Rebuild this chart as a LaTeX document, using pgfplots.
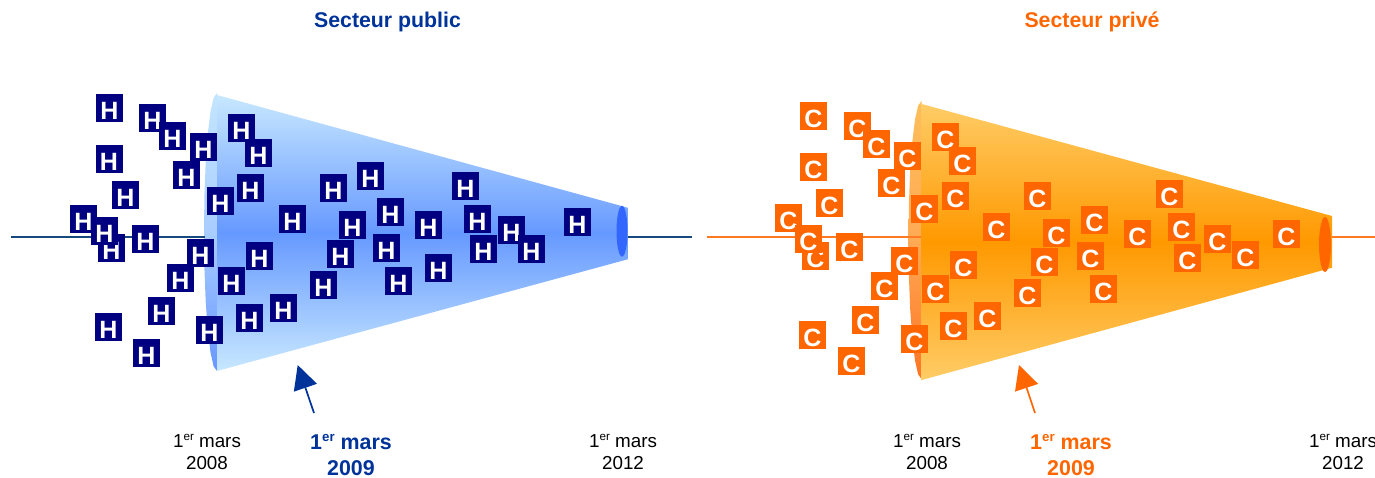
\documentclass[border=0pt]{standalone}
\usepackage{fontspec}
\setmainfont{Liberation Sans}
\usepackage{pgfplots}
\pgfplotsset{compat=1.18}
\usetikzlibrary{arrows.meta}
\definecolor{pubtitle}{HTML}{003399}
\definecolor{privtitle}{HTML}{FF6600}
\definecolor{navybox}{HTML}{000080}
\definecolor{orangebox}{HTML}{FF6600}
\definecolor{publine}{HTML}{164A7E}
\definecolor{privline}{HTML}{FF7A22}
\newcommand{\er}{\raisebox{0.36em}{\fontsize{0.62em}{0.62em}\selectfont er}}
\pgfplotsset{
  tagged/.style n args={2}{
    draw=none, no markers, forget plot,
    nodes near coords={#1},
    every node near coord/.style={
      anchor=center, fill=#2, text=white, inner sep=0pt,
      minimum width=27pt, minimum height=28pt,
      text height=22.5pt, text depth=0pt,
      font=\fontsize{25}{25}\selectfont\bfseries},
  },
}
\begin{document}
\begin{tikzpicture}
\begin{axis}[
  at={(0,0)}, anchor=south west,
  scale only axis, width=1375pt, height=477pt,
  xmin=0, xmax=1375, ymin=0, ymax=477, y dir=reverse,
  axis lines=none, clip=false,
]
% public sector: mouth of the funnel, then the time line
\addplot[draw=none, top color={rgb,255:red,196;green,230;blue,255}, bottom color={rgb,255:red,104;green,150;blue,255}, middle color={rgb,255:red,168;green,205;blue,255}, forget plot] coordinates {
  (217,93) (213.6,97.7) (210.5,111.6) (207.8,133.7) (205.7,162.5) (204.4,196) (204,232)
  (204.4,268) (205.7,301.5) (207.8,330.3) (210.5,352.4) (213.6,366.3) (217,371)} -- cycle;
\addplot[publine, line width=2pt, forget plot] coordinates {(11,236.5) (205,236.5)};
\addplot[publine, line width=2pt, forget plot] coordinates {(627,236.5) (692,236.5)};
% public sector: funnel body
\addplot[draw=none, top color={rgb,255:red,200;green,232;blue,255}, bottom color={rgb,255:red,200;green,232;blue,255}, middle color={rgb,255:red,102;green,153;blue,255}, forget plot] coordinates {
  (217,95) (627.7,207.7) (627.7,259.3) (217,371)} -- cycle;
\addplot[draw=none, fill={rgb,255:red,51;green,102;blue,255}, forget plot] coordinates {
  (627.5,231.2) (627.3,237.8) (626.8,244) (625.9,249.2) (624.75,253.3) (623.4,255.8) (622,256.7)
  (620.6,255.8) (619.25,253.3) (618.1,249.2) (617.2,244) (616.7,237.8) (616.5,231.2)
  (616.7,224.6) (617.2,218.5) (618.1,213.2) (619.25,209.1) (620.6,206.6) (622,205.7)
  (623.4,206.6) (624.75,209.1) (625.9,213.2) (626.8,218.5) (627.3,224.6)} -- cycle;

% public sector tags
\addplot[tagged={H}{navybox}] coordinates {
  (109.3,108) (152.3,118.3) (172.3,136.3) (186.3,175.3) (203.3,147) (109,159)
  (241.3,128) (258.3,153) (125.3,195) (250.3,188) (220.3,201) (333.3,188)
  (292.3,219) (83.3,219) (111.3,248.3) (104.3,231) (145.3,239) (180.3,278)
  (200.3,253) (259.3,256.3) (340.3,254) (231.3,281) (323.3,285) (161.3,311.3)
  (283.3,308.3) (249.3,318) (108.3,327) (209.3,330) (146.3,353) (352.3,225)
  (370.3,176.3) (390.3,212) (386.3,248.3) (398.3,281) (428.3,225) (438.3,268)
  (465.3,186.3) (477.3,219) (483.3,249.3) (511.3,230.3) (531.3,249) (577.3,222.3)
};
\addplot[pubtitle, line width=1.7pt, -{Triangle[length=24pt,width=24pt]}, forget plot] coordinates {(314,413) (297.7,365)};

% private sector: mouth of the funnel, then the time line
\addplot[draw=none, top color={rgb,255:red,255;green,190;blue,90}, bottom color={rgb,255:red,255;green,115;blue,35}, middle color={rgb,255:red,255;green,170;blue,85}, forget plot] coordinates {
  (921.5,101) (918.1,105.7) (915,119.6) (912.3,141.7) (910.2,170.5) (908.9,204) (908.5,240)
  (908.9,276) (910.2,309.5) (912.3,338.3) (915,360.4) (918.1,374.3) (921.5,379)} -- cycle;
\addplot[privline, line width=2pt, forget plot] coordinates {(707,236.5) (921.5,236.5)};
\addplot[privline, line width=2pt, forget plot] coordinates {(1332,236.5) (1375,236.5)};
% private sector: funnel body
\addplot[draw=none, top color={rgb,255:red,255;green,204;blue,102}, bottom color={rgb,255:red,255;green,204;blue,102}, middle color={rgb,255:red,255;green,153;blue,0}, forget plot] coordinates {
  (921.7,104) (1332,216) (1332,267.7) (921.7,380)} -- cycle;
\addplot[draw=none, fill=orangebox, forget plot] coordinates {
  (1331,244.5) (1330.8,251.6) (1330.2,258.25) (1329.2,263.9) (1328,268.3) (1326.6,271.1) (1325,272)
  (1323.4,271.1) (1322,268.3) (1320.8,263.9) (1319.8,258.25) (1319.2,251.6) (1319,244.5)
  (1319.2,237.4) (1319.8,230.75) (1320.8,225.1) (1322,220.7) (1323.4,217.9) (1325,217)
  (1326.6,217.9) (1328,220.7) (1329.2,225.1) (1330.2,230.75) (1330.8,237.4)} -- cycle;

% private sector tags
\addplot[tagged={C}{orangebox}] coordinates {
  (813.3,116) (857.3,126.3) (876.3,144.3) (891.3,183.3) (907.3,156) (813.3,167)
  (945.3,137) (962.3,161) (829.3,203) (955.3,196) (924.3,209) (1037.3,196)
  (996.3,227) (788.3,218) (815.3,256.3) (808.3,239) (849.3,247) (884.3,286)
  (904.3,261) (963.3,265.3) (1044.3,262) (935.3,289) (1027.3,293) (865.3,320.3)
  (987.3,316.3) (953.3,326) (812.3,335) (914.3,339) (851.3,361) (1056.3,233)
  (1094.3,220) (1090.3,256.3) (1103.3,289) (1137.3,234) (1169.3,194.3) (1181.3,227)
  (1187.3,258.3) (1217.3,239) (1245.3,255) (1286.3,234)
};
\addplot[privtitle, line width=1.7pt, -{Triangle[length=24pt,width=24pt]}, forget plot] coordinates {(1035,413) (1019,365)};

% headings and dates
\node[font=\fontsize{21.3}{21.3}\selectfont\bfseries, text=pubtitle] at (axis cs:387.5,22) {Secteur public};
\node[font=\fontsize{21.3}{21.3}\selectfont\bfseries, text=privtitle] at (axis cs:1092,22) {Secteur privé};
\node[font=\fontsize{18.8}{18.8}\selectfont, anchor=base] at (axis cs:207,447.5) {1\er{} mars};
\node[font=\fontsize{18.8}{18.8}\selectfont, anchor=base] at (axis cs:207,469.5) {2008};
\node[font=\fontsize{18.8}{18.8}\selectfont, anchor=base] at (axis cs:623,447.5) {1\er{} mars};
\node[font=\fontsize{18.8}{18.8}\selectfont, anchor=base] at (axis cs:623,469.5) {2012};
\node[font=\fontsize{18.8}{18.8}\selectfont, anchor=base] at (axis cs:927,447.5) {1\er{} mars};
\node[font=\fontsize{18.8}{18.8}\selectfont, anchor=base] at (axis cs:927,469.5) {2008};
\node[font=\fontsize{18.8}{18.8}\selectfont, anchor=base] at (axis cs:1343,447.5) {1\er{} mars};
\node[font=\fontsize{18.8}{18.8}\selectfont, anchor=base] at (axis cs:1343,469.5) {2012};
\node[font=\fontsize{21.4}{21.4}\selectfont\bfseries, text=pubtitle, anchor=base] at (axis cs:351,449) {1\er{} mars};
\node[font=\fontsize{21.4}{21.4}\selectfont\bfseries, text=pubtitle, anchor=base] at (axis cs:351,475) {2009};
\node[font=\fontsize{21.4}{21.4}\selectfont\bfseries, text=privtitle, anchor=base] at (axis cs:1071,449) {1\er{} mars};
\node[font=\fontsize{21.4}{21.4}\selectfont\bfseries, text=privtitle, anchor=base] at (axis cs:1071,475) {2009};
\end{axis}
\pgfresetboundingbox
\path[use as bounding box] (0,0) rectangle (1375pt,477pt);
\end{tikzpicture}
\end{document}
